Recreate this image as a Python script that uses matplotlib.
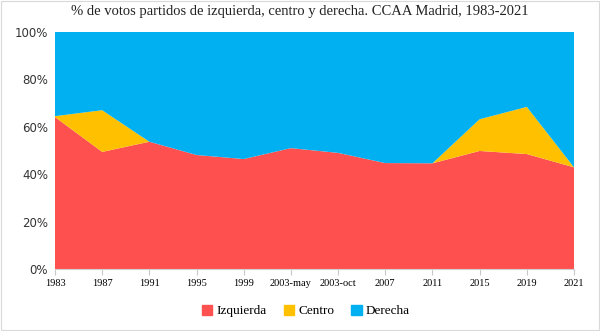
import matplotlib
matplotlib.use("Agg")
import matplotlib.pyplot as plt
import matplotlib.patches as mpatches
import numpy as np

# ---------- DATA ----------
years = ["1983", "1987", "1991", "1995", "1999", "2003-may", "2003-oct",
         "2007", "2011", "2015", "2019", "2021"]
izquierda = [64.1, 49.4, 53.7, 48.1, 46.4, 51.0, 49.0, 44.7, 44.6, 49.8, 48.5, 42.9]
centro = [0.4, 17.6, 0.0, 0.0, 0.0, 0.0, 0.0, 0.0, 0.0, 13.4, 19.9, 0.0]
derecha = [100 - a - b for a, b in zip(izquierda, centro)]

colors = ["#FF5050", "#FFC000", "#00B0F0"]
labels = ["Izquierda", "Centro", "Derecha"]

# ---------- PLOT ----------
fig = plt.figure(figsize=(6, 3.31), dpi=100)
ax = fig.add_axes([55 / 600, 1 - 269 / 331, (574 - 55) / 600, (269 - 32) / 331])

x = np.arange(len(years))
ax.stackplot(x, izquierda, centro, derecha, colors=colors, linewidth=0)

ax.set_xlim(0, len(years) - 1)
ax.set_ylim(0, 100)
ax.set_xticks(x)
ax.set_xticklabels(years, fontfamily="Liberation Serif", fontsize=7.5)
ax.set_yticks(np.arange(0, 101, 20))
ax.set_yticklabels([f"{v}%" for v in range(0, 101, 20)],
                   fontfamily="DejaVu Sans", fontsize=8.5, color="#333333")
ax.tick_params(axis="y", length=0, pad=5)
ax.tick_params(axis="x", length=4, color="#c8c8c8", pad=3)
for s in ["top", "right", "left"]:
    ax.spines[s].set_visible(False)
ax.spines["bottom"].set_color("#d0d0d0")

fig.text(0.5, 1 - 11 / 331,
         "% de votos partidos de izquierda, centro y derecha. CCAA Madrid, 1983-2021",
         ha="center", va="center", fontfamily="Liberation Serif", fontsize=10.5,
         color="#222222")

handles = [mpatches.Patch(color=c, label=l) for c, l in zip(colors, labels)]
fig.legend(handles=handles, loc="center", bbox_to_anchor=(0.51, 1 - 311 / 331),
           ncol=3, frameon=False, handlelength=0.8, handleheight=0.8,
           handletextpad=0.3, columnspacing=1.3,
           prop={"family": "Liberation Serif", "size": 9.5})

# chart border
fig.patches.append(mpatches.Rectangle((0.002, 0.003), 0.996, 0.994, transform=fig.transFigure,
                                      fill=False, edgecolor="#d9d9d9", linewidth=0.8))

fig.savefig("out.png", dpi=100)
